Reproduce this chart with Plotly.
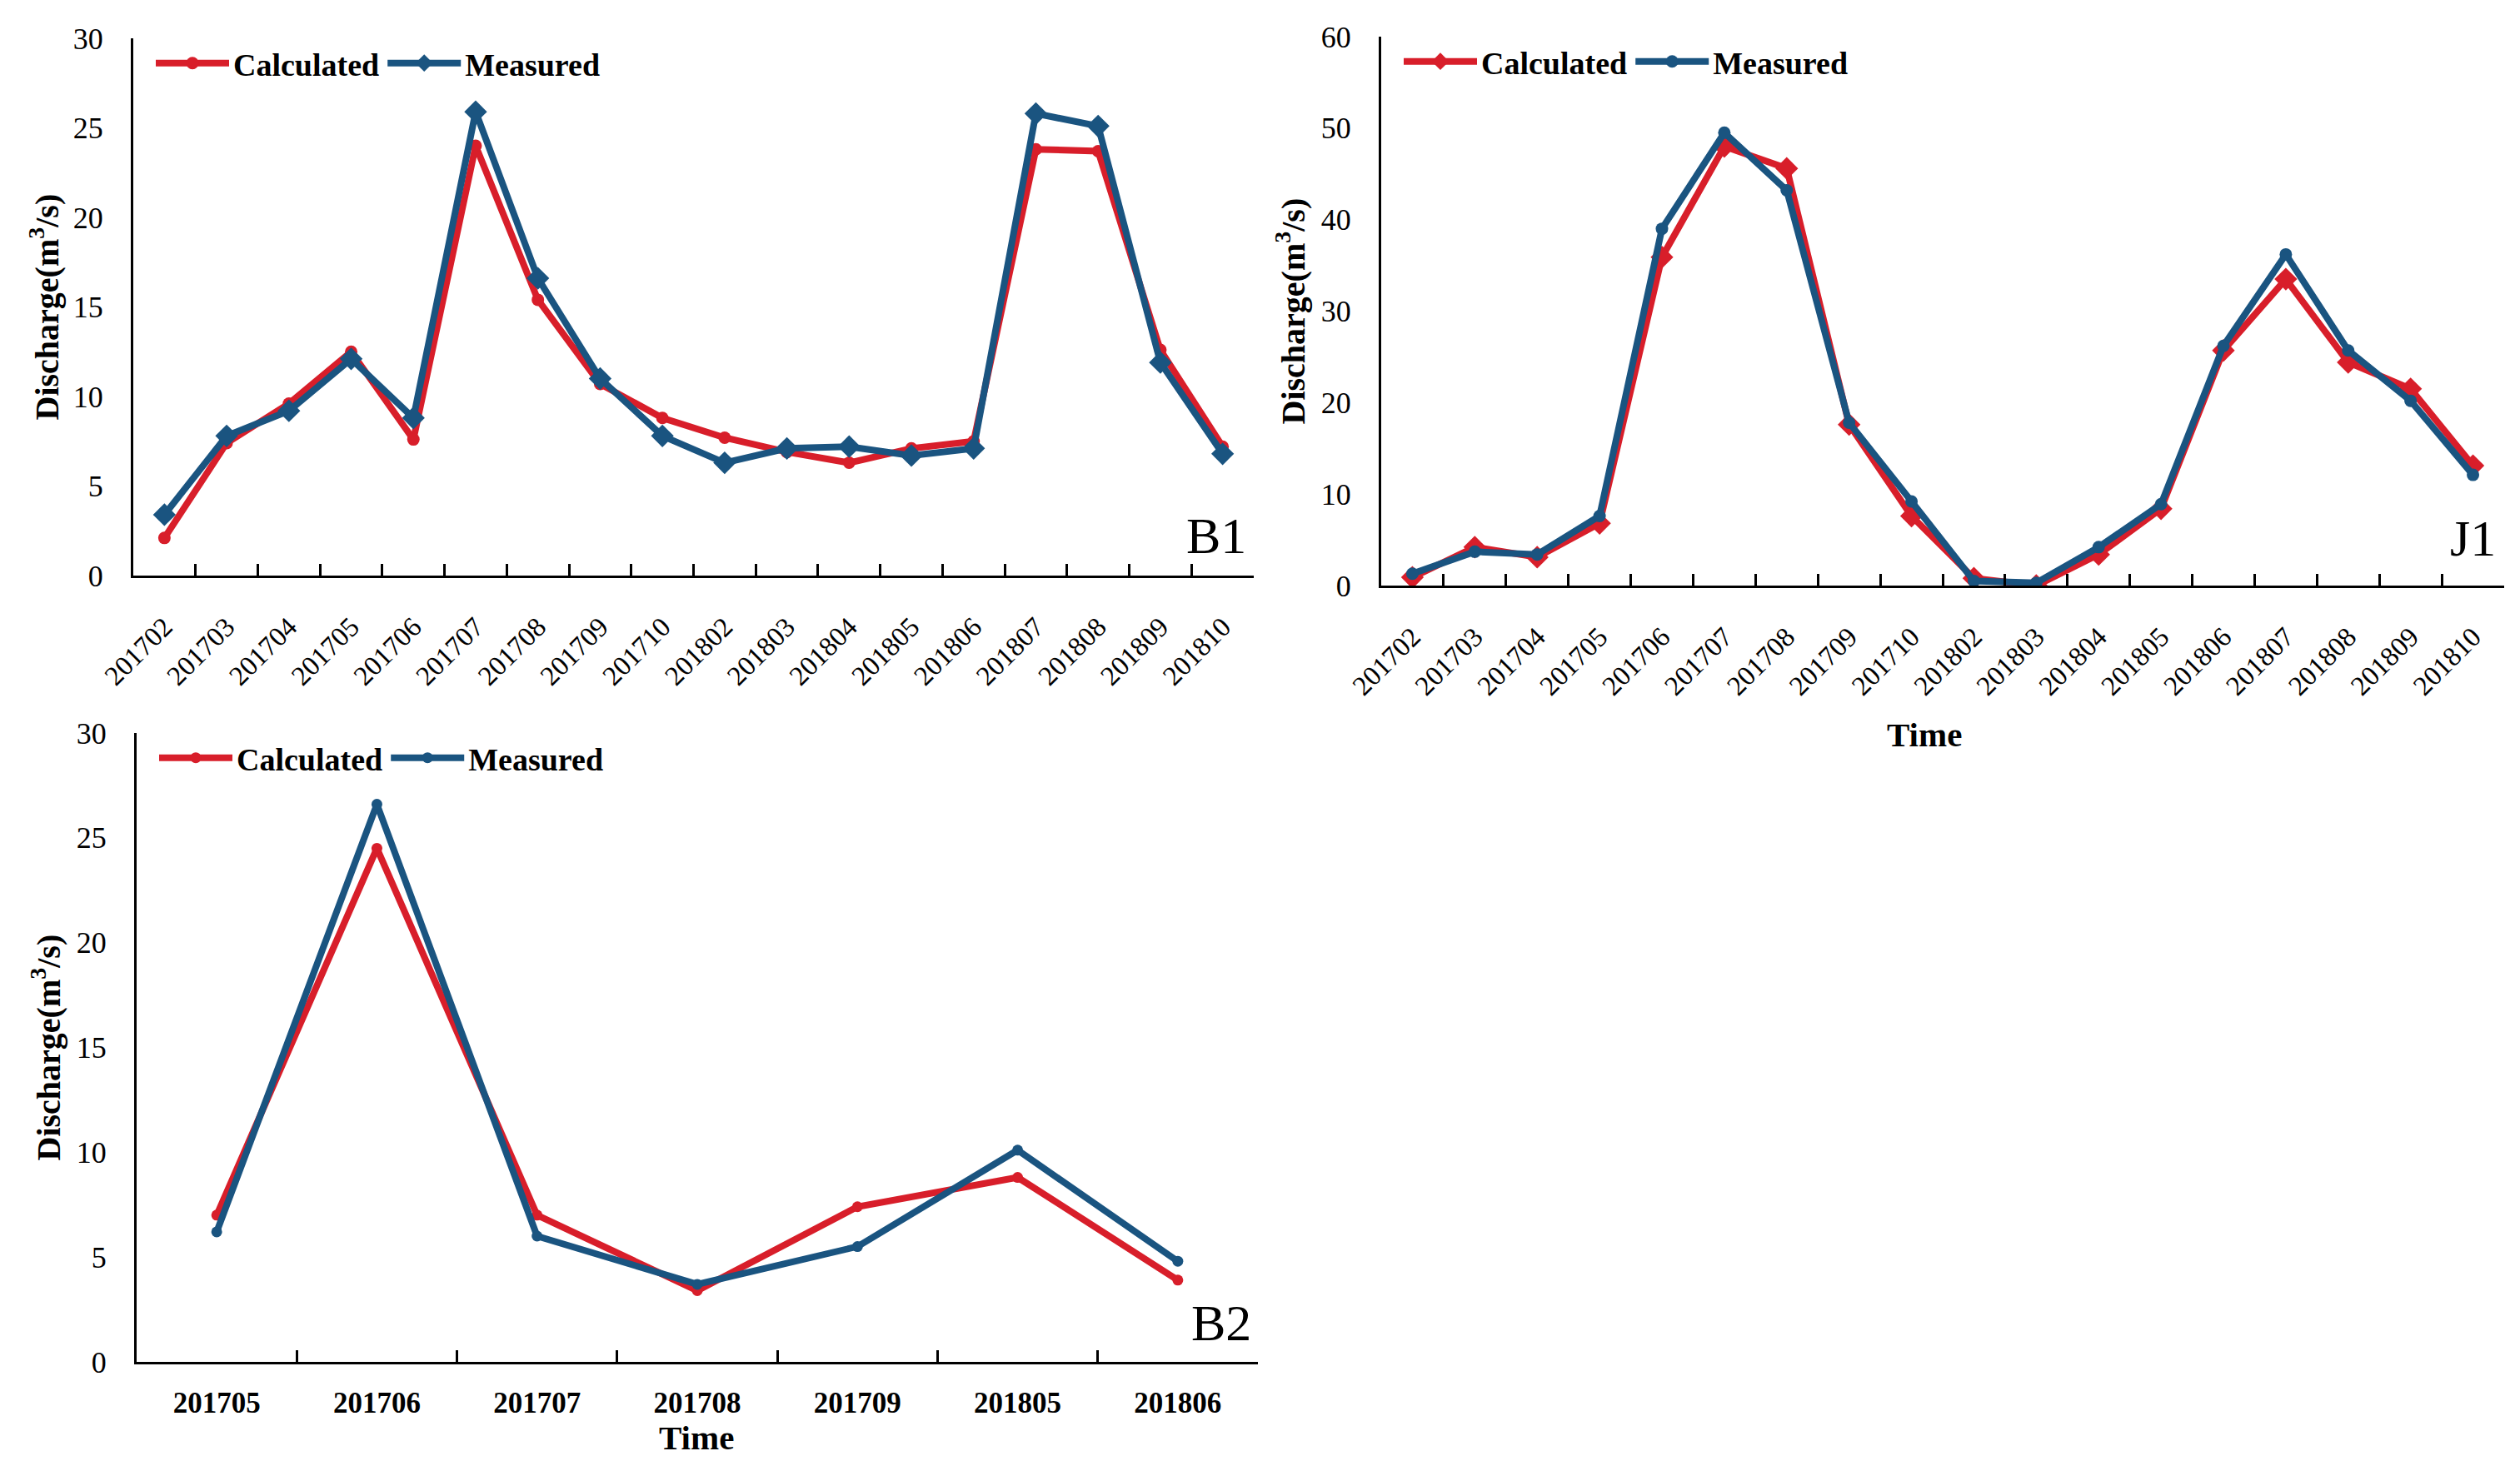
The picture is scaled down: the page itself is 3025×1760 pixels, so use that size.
import plotly.graph_objects as go

W, H = 3025, 1760

# ---------------- data ----------------
b1_months = ["201702", "201703", "201704", "201705", "201706", "201707", "201708", "201709",
             "201710", "201802", "201803", "201804", "201805", "201806", "201807", "201808",
             "201809", "201810"]
b1_calculated = [2.1, 7.4, 9.6, 12.5, 7.6, 24.0, 15.4, 10.7, 8.8, 7.7, 6.9, 6.3, 7.1, 7.5, 23.8, 23.7, 12.6, 7.2]
b1_measured = [3.4, 7.8, 9.2, 12.1, 8.8, 25.9, 16.6, 11.0, 7.8, 6.3, 7.1, 7.2, 6.7, 7.1, 25.8, 25.1, 11.9, 6.8]

j1_months = ["201702", "201703", "201704", "201705", "201706", "201707", "201708", "201709",
             "201710", "201802", "201803", "201804", "201805", "201806", "201807", "201808",
             "201809", "201810"]
j1_calculated = [0.9, 4.2, 3.1, 6.8, 35.9, 48.0, 45.6, 17.6, 7.6, 0.8, 0.0, 3.4, 8.4, 25.7, 33.5, 24.4, 21.5, 13.1]
j1_measured = [1.3, 3.7, 3.4, 7.6, 39.0, 49.5, 43.2, 17.8, 9.2, 0.5, 0.3, 4.2, 8.9, 26.2, 36.2, 25.7, 20.2, 12.1]

b2_months = ["201705", "201706", "201707", "201708", "201709", "201805", "201806"]
b2_calculated = [7.0, 24.5, 7.0, 3.4, 7.4, 8.8, 3.9]
b2_measured = [6.2, 26.6, 6.0, 3.7, 5.5, 10.1, 4.8]

RED = "#D81E2A"
BLUE = "#1A5480"
SERIF = "Liberation Serif"


def px_x(v):
    return v / W


def px_y(v):
    return 1 - v / H


fig = go.Figure()

panels = [
    # name, months, calc, meas, xaxis id, yaxis id, legend id, calc symbol, meas symbol, x px, y px, ymax, dtick
    ("B1", b1_months, b1_calculated, b1_measured, "x", "y", "legend", "circle", "diamond",
     (152, 1497), (38, 683), 30, 5),
    ("J1", j1_months, j1_calculated, j1_measured, "x2", "y2", "legend2", "diamond", "circle",
     (1650, 2998), (36, 695), 60, 10),
    ("B2", b2_months, b2_calculated, b2_measured, "x3", "y3", "legend3", "circle", "circle",
     (156, 1502), (872, 1627), 30, 5),
]

msize = {"circle": 15, "diamond": 21}

for name, months, calc, meas, xa, ya, lg, csym, msym, xd, yd, ymax, dt in panels:
    fig.add_trace(go.Scatter(
        x=months, y=calc, name="Calculated", mode="lines+markers",
        line=dict(color=RED, width=8),
        marker=dict(symbol=csym, size=msize[csym] if name != "B2" else 13, color=RED),
        xaxis=xa, yaxis=ya, legend=lg))
    fig.add_trace(go.Scatter(
        x=months, y=meas, name="Measured", mode="lines+markers",
        line=dict(color=BLUE, width=8),
        marker=dict(symbol=msym, size=msize[msym] if name != "B2" else 13, color=BLUE),
        xaxis=xa, yaxis=ya, legend=lg))

axis_line = dict(showline=True, linecolor="black", linewidth=3, showgrid=False,
                 zeroline=False, automargin=False)

layout = dict(
    template="none",
    width=W, height=H,
    margin=dict(l=0, r=0, t=0, b=0, pad=0),
    paper_bgcolor="white", plot_bgcolor="white",
    font=dict(family=SERIF, color="black", size=32),
    showlegend=True,
)

ax_names = [("xaxis", "yaxis"), ("xaxis2", "yaxis2"), ("xaxis3", "yaxis3")]
legend_names = ["legend", "legend2", "legend3"]

for (name, months, calc, meas, xa, ya, lg, csym, msym, xd, yd, ymax, dt), (xn, yn), ln in zip(panels, ax_names, legend_names):
    is_b2 = name == "B2"
    layout[xn] = dict(
        domain=[px_x(xd[0]), px_x(xd[1])], anchor=ya,
        type="category", range=[-0.5, len(months) - 0.5],
        ticks="inside", tickson="boundaries", ticklen=14, tickwidth=3, tickcolor="black",
        tickangle=0 if is_b2 else -45,
        tickfont=dict(family=SERIF, size=35 if is_b2 else 33,
                      weight="bold" if is_b2 else "normal"),
        ticklabelstandoff=16 if is_b2 else 26,
        **axis_line)
    layout[yn] = dict(
        domain=[px_y(yd[1]), px_y(yd[0])], anchor=xa,
        range=[0, ymax], dtick=dt, tick0=0,
        ticks="", ticklabelstandoff=26,
        tickfont=dict(family=SERIF, size=36),
        **axis_line)
    layout[ln] = dict(
        orientation="h", x=px_x(xd[0] + 22), y=px_y(yd[0] + 30),
        xanchor="left", yanchor="middle",
        font=dict(family=SERIF, size=38, weight="bold"),
        bgcolor="rgba(0,0,0,0)", itemwidth=88, tracegroupgap=0,
    )

fig.update_layout(**layout)

annotations = []
# y-axis titles
for xc, yc in [(46, (38 + 683) / 2), (1542, (36 + 695) / 2), (48, (872 + 1627) / 2)]:
    annotations.append(dict(
        text="Discharge(m<sup>3</sup>/s)", x=px_x(xc), y=px_y(yc), xref="paper", yref="paper",
        textangle=-90, showarrow=False, xanchor="center", yanchor="middle",
        font=dict(family=SERIF, size=40, weight="bold")))
# x-axis titles
for xc, yc in [(2302, 874), (828, 1718)]:
    annotations.append(dict(
        text="Time", x=px_x(xc), y=px_y(yc), xref="paper", yref="paper",
        showarrow=False, xanchor="center", yanchor="middle",
        font=dict(family=SERIF, size=41, weight="bold")))
# panel labels
for txt, xr, yc in [("B1", 1490, 635), ("J1", 2990, 638), ("B2", 1496, 1580)]:
    annotations.append(dict(
        text=txt, x=px_x(xr), y=px_y(yc), xref="paper", yref="paper",
        showarrow=False, xanchor="right", yanchor="middle",
        font=dict(family=SERIF, size=62)))

fig.update_layout(annotations=annotations)

fig.write_html("out.html")
